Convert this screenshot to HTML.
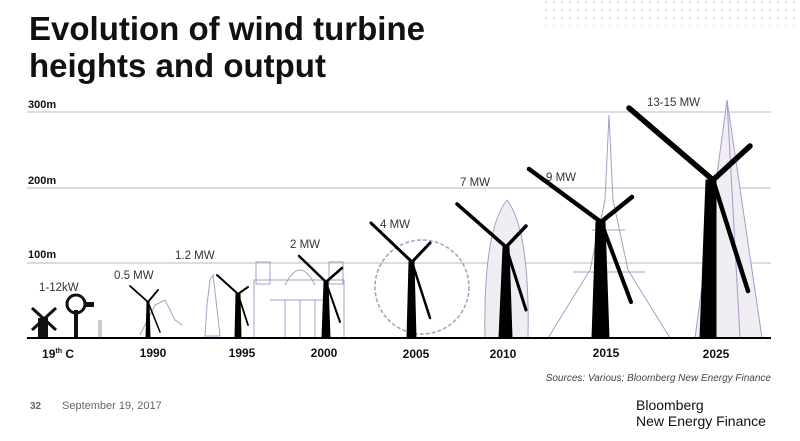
<!DOCTYPE html>
<html><head><meta charset="utf-8"><style>
body{margin:0;width:800px;height:436px;background:#fff;overflow:hidden;font-family:"Liberation Sans",Arial,sans-serif}
</style></head><body>
<svg width="800" height="436" viewBox="0 0 800 436" xmlns="http://www.w3.org/2000/svg" font-family="Liberation Sans, Arial, sans-serif">
<defs><pattern id="dots" width="8" height="8" patternUnits="userSpaceOnUse"><circle cx="2" cy="2" r="0.9" fill="#ccc"/></pattern></defs>
<rect x="540" y="0" width="260" height="26" fill="url(#dots)"/>
<text x="29" y="40" font-size="33" font-weight="bold" fill="#111">Evolution of wind turbine</text>
<text x="29" y="77" font-size="33" font-weight="bold" fill="#111">heights and output</text>
<g stroke="#d0d0d0" stroke-width="1.5">
<line x1="27" y1="112" x2="771" y2="112"/><line x1="27" y1="188" x2="771" y2="188"/><line x1="27" y1="263" x2="771" y2="263"/>
</g>
<g font-size="11" font-weight="bold" fill="#111"><text x="28" y="108">300m</text><text x="28" y="184">200m</text><text x="28" y="258">100m</text></g>
<g fill="none" stroke="#a99cc4" stroke-width="1">
<path d="M140 335 L155 305 L165 300 L175 320 L182 325"/>
<path d="M205 336 L207 305 L210 280 L213 275 L216 300 L220 336 Z"/>
<rect x="254" y="280" width="90" height="58"/><rect x="256" y="262" width="14" height="22"/><rect x="329" y="262" width="14" height="22"/>
<path d="M285 285 Q300 255 315 285"/><line x1="270" y1="300" x2="330" y2="300"/><line x1="285" y1="300" x2="285" y2="338"/><line x1="300" y1="300" x2="300" y2="338"/><line x1="315" y1="300" x2="315" y2="338"/>
<circle cx="422" cy="287" r="47" stroke-width="1.5" stroke-dasharray="4 2"/>
<path d="M507 200 Q530 230 528 338 L485 338 Q483 230 507 200 Z" fill="#f0edf5"/>
<path d="M609 115 L605 200 L590 270 L548 338 L670 338 L628 270 L613 200 Z"/><line x1="573" y1="272" x2="645" y2="272"/><line x1="592" y1="230" x2="625" y2="230"/>
<path d="M727 100 L695 338 L762 338 Z" fill="#f0edf5"/><line x1="727" y1="100" x2="740" y2="338"/>
</g>
<g fill="#111"><rect x="38" y="318" width="10" height="20"/><line x1="32" y1="308" x2="56" y2="330" stroke="#111" stroke-width="3"/><line x1="56" y1="308" x2="32" y2="330" stroke="#111" stroke-width="3"/>
<circle cx="76" cy="304" r="9" fill="none" stroke="#111" stroke-width="3"/><rect x="74" y="310" width="4" height="28"/><rect x="84" y="302" width="10" height="5"/></g>
<rect x="98" y="320" width="4" height="18" fill="#ccc"/>
<g stroke="#000" stroke-linecap="round" fill="#000">
<polygon points="147,302 149,302 150,338 146,338"/><line x1="148" y1="302" x2="130" y2="286" stroke-width="1.8"/><line x1="148" y1="302" x2="158" y2="290" stroke-width="1.8"/><line x1="148" y1="302" x2="160" y2="332" stroke-width="1.5"/>
<polygon points="236,294 240,294 241,338 235,338"/><line x1="238" y1="294" x2="217" y2="275" stroke-width="2"/><line x1="238" y1="294" x2="248" y2="287" stroke-width="2"/><line x1="238" y1="294" x2="248" y2="325" stroke-width="1.8"/>
<polygon points="324,282 328,282 330,338 322,338"/><line x1="326" y1="282" x2="299" y2="256" stroke-width="2.5"/><line x1="326" y1="282" x2="342" y2="268" stroke-width="2.5"/><line x1="326" y1="282" x2="340" y2="322" stroke-width="2"/>
<polygon points="409,262 414,262 416,338 407,338"/><line x1="412" y1="262" x2="371" y2="223" stroke-width="3"/><line x1="412" y1="262" x2="430" y2="243" stroke-width="3"/><line x1="412" y1="262" x2="430" y2="318" stroke-width="2.5"/>
<polygon points="503,247 509,247 512,338 499,338"/><line x1="506" y1="247" x2="457" y2="204" stroke-width="3.5"/><line x1="506" y1="247" x2="526" y2="226" stroke-width="3.5"/><line x1="506" y1="247" x2="526" y2="310" stroke-width="3"/>
<polygon points="596,222 605,222 609,338 592,338"/><line x1="601" y1="222" x2="529" y2="169" stroke-width="4.5"/><line x1="601" y1="222" x2="632" y2="197" stroke-width="4.5"/><line x1="601" y1="222" x2="631" y2="302" stroke-width="4"/>
<polygon points="706,180 716,180 716,338 700,338"/><line x1="713" y1="180" x2="629" y2="108" stroke-width="5.5"/><line x1="713" y1="180" x2="750" y2="146" stroke-width="5.5"/><line x1="713" y1="180" x2="748" y2="291" stroke-width="4.5"/>
</g>
<line x1="27" y1="338" x2="771" y2="338" stroke="#000" stroke-width="2"/>
<g font-size="11.5" fill="#333">
<text x="39" y="291">1-12kW</text><text x="114" y="279">0.5 MW</text><text x="175" y="259">1.2 MW</text><text x="290" y="248">2 MW</text><text x="380" y="228">4 MW</text><text x="460" y="186">7 MW</text><text x="546" y="181">9 MW</text><text x="647" y="106">13-15 MW</text>
</g>
<g font-size="12" font-weight="bold" fill="#111" text-anchor="middle">
<text x="58" y="358">19<tspan font-size="7" dy="-5">th</tspan><tspan dy="5"> C</tspan></text><text x="153" y="357">1990</text><text x="242" y="357">1995</text><text x="324" y="357">2000</text><text x="416" y="358">2005</text><text x="503" y="358">2010</text><text x="606" y="357">2015</text><text x="716" y="358">2025</text>
</g>
<text x="771" y="381" font-size="10" font-style="italic" fill="#444" text-anchor="end">Sources: Various; Bloomberg New Energy Finance</text>
<text x="30" y="409" font-size="10" font-weight="bold" fill="#666">32</text>
<text x="62" y="409" font-size="11" fill="#666">September 19, 2017</text>
<text x="636" y="410" font-size="14" fill="#111">Bloomberg</text>
<text x="636" y="426" font-size="14" fill="#111">New Energy Finance</text>
</svg>
</body></html>
